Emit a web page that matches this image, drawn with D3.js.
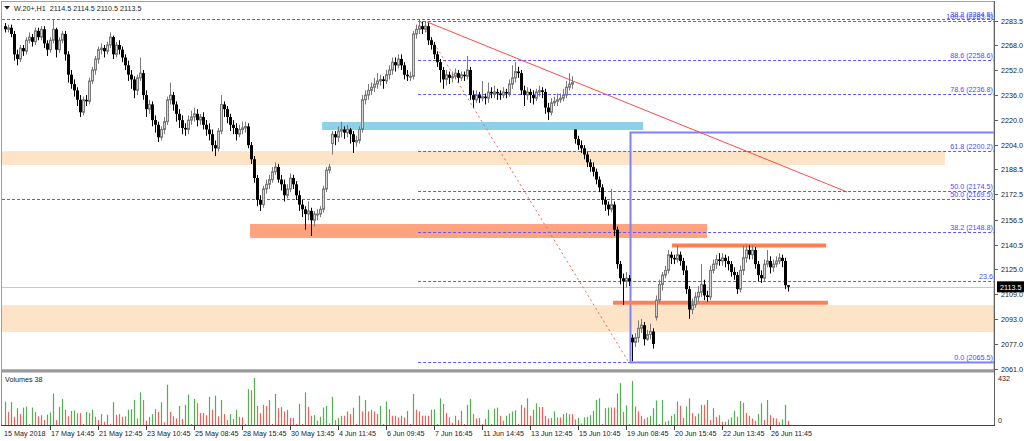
<!DOCTYPE html>
<html><head><meta charset="utf-8">
<script src="https://cdn.jsdelivr.net/npm/d3@7"></script>
<style>html,body{margin:0;padding:0;background:#fff;}svg{display:block;}text{font-family:"Liberation Sans",Arial,sans-serif;}</style>
</head><body><svg id="c" width="1024" height="441"></svg>
<script>
// ---------- DATA ----------
const opens = [
2280,2278,2279,2275,2262,2259,2266,2264,2271,2273,
2270,2277,2273,2278,2269,2265,2271,2278,2265,2271,
2275,2262,2249,2243,2239,2233,2225,2233,2232,2245,
2252,2259,2265,2266,2264,2268,2273,2262,2268,2265,
2260,2255,2249,2246,2239,2247,2250,2236,2227,2230,
2220,2217,2209,2214,2219,2233,2236,2230,2224,2220,
2215,2214,2220,2222,2224,2220,2222,2217,2214,2211,
2204,2202,2213,2230,2227,2222,2217,2215,2211,2214,
2215,2216,2204,2195,2183,2169,2166,2176,2179,2182,
2187,2190,2182,2179,2172,2176,2183,2179,2172,2166,
2163,2160,2162,2156,2160,2160,2163,2176,2188,2205,
2211,2209,2213,2214,2212,2214,2211,2206,2207,2214,
2233,2236,2239,2241,2243,2245,2246,2245,2249,2252,
2257,2255,2259,2255,2249,2248,2248,2275,2278,2280,
2278,2280,2271,2268,2262,2257,2252,2246,2249,2247,
2248,2250,2247,2249,2248,2252,2236,2233,2236,2234,
2235,2234,2238,2237,2238,2237,2236,2238,2237,2243,
2247,2251,2250,2239,2236,2238,2236,2234,2238,2239,
2238,2228,2225,2231,2232,2233,2234,2236,2241,2243,
2214,2208,2204,2202,2198,2193,2190,2187,2182,2177,
2169,2166,2163,2166,2150,2128,2119,2117,2119,2081,
2078,2081,2087,2089,2080,2083,2085,2094,2105,2115,
2121,2124,2134,2132,2131,2134,2130,2124,2112,2099,
2102,2107,2110,2115,2108,2107,2124,2128,2131,2130,
2132,2130,2128,2123,2121,2112,2124,2132,2137,2134,
2137,2128,2121,2119,2128,2130,2126,2128,2130,2132,
2130,2114.5];
const highs = [
2282,2281,2281,2277,2265,2268,2268,2273,2276,2275,
2279,2279,2280,2280,2271,2273,2284,2279,2273,2277,
2277,2264,2252,2246,2241,2236,2235,2236,2247,2254,
2261,2267,2269,2268,2270,2276,2274,2270,2271,2267,
2262,2258,2252,2248,2249,2260,2252,2239,2233,2232,
2223,2219,2216,2222,2235,2244,2238,2232,2227,2223,
2218,2223,2226,2228,2227,2224,2225,2220,2218,2214,
2207,2215,2236,2232,2229,2224,2220,2218,2217,2219,
2219,2218,2206,2197,2185,2172,2178,2182,2185,2190,
2193,2192,2185,2182,2179,2186,2185,2181,2175,2169,
2165,2168,2164,2162,2163,2165,2178,2190,2192,2213,
2213,2216,2219,2216,2217,2215,2213,2210,2216,2236,
2239,2243,2244,2247,2250,2249,2248,2252,2255,2260,
2260,2262,2262,2257,2252,2251,2277,2281,2284,2283,
2283,2282,2273,2270,2264,2259,2254,2252,2251,2251,
2253,2252,2251,2251,2261,2254,2239,2239,2238,2245,
2237,2244,2241,2242,2240,2239,2241,2240,2246,2255,
2257,2254,2252,2242,2241,2240,2239,2240,2242,2241,
2240,2231,2234,2235,2237,2237,2240,2245,2250,2248,
2214,2210,2207,2204,2200,2195,2193,2189,2184,2179,
2171,2168,2176,2168,2152,2130,2122,2123,2121,2083,
2084,2092,2093,2091,2086,2090,2087,2108,2118,2123,
2127,2137,2136,2134,2140,2136,2132,2127,2114,2106,
2110,2114,2128,2118,2111,2127,2131,2134,2135,2135,
2134,2133,2130,2126,2123,2127,2140,2140,2140,2140,
2139,2130,2124,2131,2137,2133,2131,2133,2135,2134,
2132,2114.5];
const lows = [
2276,2276,2273,2258,2255,2257,2261,2262,2269,2267,
2268,2271,2271,2266,2261,2263,2269,2260,2263,2269,
2258,2244,2240,2235,2229,2222,2223,2229,2230,2243,
2249,2256,2262,2260,2262,2266,2259,2260,2262,2257,
2252,2245,2240,2234,2236,2245,2233,2222,2224,2216,
2212,2206,2207,2211,2217,2230,2226,2219,2215,2211,
2210,2211,2217,2219,2216,2217,2214,2210,2207,2200,
2197,2200,2211,2222,2218,2213,2211,2207,2209,2211,
2212,2202,2192,2180,2165,2162,2164,2173,2176,2180,
2185,2180,2175,2168,2170,2174,2176,2169,2162,2158,
2150,2156,2146,2152,2156,2158,2161,2174,2186,2198,
2204,2206,2209,2208,2209,2205,2199,2203,2205,2212,
2230,2233,2236,2238,2240,2242,2240,2243,2246,2249,
2251,2253,2252,2246,2245,2245,2246,2272,2275,2275,
2276,2268,2265,2259,2254,2244,2240,2242,2243,2244,
2246,2244,2245,2245,2246,2233,2228,2231,2231,2232,
2230,2231,2234,2234,2233,2233,2234,2234,2235,2240,
2244,2247,2236,2229,2233,2231,2230,2232,2235,2234,
2224,2220,2223,2229,2229,2231,2232,2234,2239,2240,
2205,2201,2199,2195,2190,2187,2184,2179,2174,2166,
2162,2159,2161,2146,2125,2115,2102,2113,2114,2066,
2075,2078,2084,2076,2079,2080,2074,2092,2103,2111,
2119,2122,2128,2128,2129,2127,2121,2109,2093,2096,
2100,2104,2107,2105,2104,2105,2122,2125,2127,2127,
2126,2124,2120,2118,2109,2110,2121,2129,2131,2131,
2125,2117,2116,2117,2126,2122,2123,2126,2128,2126,
2112,2110.5];
const closes = [
2278,2279,2275,2262,2259,2266,2264,2271,2273,2270,
2277,2273,2278,2269,2265,2271,2278,2265,2271,2275,
2262,2249,2243,2239,2233,2225,2233,2232,2245,2252,
2259,2265,2266,2264,2268,2273,2262,2268,2265,2260,
2255,2249,2246,2239,2247,2250,2236,2227,2230,2220,
2217,2209,2214,2219,2233,2236,2230,2224,2220,2215,
2214,2220,2222,2224,2220,2222,2217,2214,2211,2204,
2202,2213,2230,2227,2222,2217,2215,2211,2214,2215,
2216,2204,2195,2183,2169,2166,2176,2179,2182,2187,
2190,2182,2179,2172,2176,2183,2179,2172,2166,2163,
2160,2162,2156,2160,2160,2163,2176,2188,2190,2211,
2209,2213,2214,2212,2214,2211,2206,2207,2214,2233,
2236,2239,2241,2243,2245,2246,2245,2249,2252,2257,
2255,2259,2255,2249,2248,2248,2275,2278,2280,2278,
2280,2271,2268,2262,2257,2252,2246,2249,2247,2248,
2250,2247,2249,2248,2252,2236,2233,2236,2234,2235,
2234,2238,2237,2238,2237,2236,2238,2237,2243,2247,
2251,2250,2239,2236,2238,2236,2234,2238,2239,2238,
2228,2225,2231,2232,2233,2234,2236,2241,2243,2244,
2208,2204,2202,2198,2193,2190,2187,2182,2177,2169,
2166,2163,2166,2150,2128,2119,2117,2119,2117,2078,
2081,2087,2089,2080,2083,2085,2077,2105,2115,2121,
2124,2134,2132,2131,2134,2130,2124,2112,2099,2102,
2107,2110,2115,2108,2107,2124,2128,2131,2130,2132,
2130,2128,2123,2121,2112,2124,2132,2137,2134,2137,
2128,2121,2119,2128,2130,2126,2128,2130,2132,2130,
2114.5,2113.5];
const volumes = [
215,120,210,75,155,100,160,170,10,160,
120,80,90,45,95,115,290,45,165,240,
140,80,130,135,110,110,10,120,110,140,
75,45,100,30,95,10,210,95,100,75,
80,140,145,230,60,300,230,40,75,100,
145,120,210,25,370,120,80,60,175,55,
185,280,10,240,200,110,110,90,260,140,
270,80,230,100,45,100,55,140,75,70,
10,330,320,432,175,110,185,175,230,10,
285,155,165,125,140,65,65,10,195,10,
300,165,85,90,40,75,160,175,15,260,
45,65,85,85,125,100,160,10,270,125,
230,125,140,125,100,175,10,215,145,85,
85,70,85,70,130,10,285,140,125,85,
85,85,140,145,10,245,195,110,70,20,
85,45,130,10,185,240,100,60,65,10,
55,140,10,150,160,85,40,85,105,125,
135,10,185,160,245,85,140,200,165,165,
85,60,65,125,70,70,100,110,100,100,
50,65,15,70,75,90,130,230,245,10,
155,160,160,160,290,385,120,180,10,405,
170,125,85,55,70,85,155,225,10,230,
30,40,85,100,215,175,65,170,245,110,
80,105,185,185,230,45,155,75,90,30,
30,50,70,130,75,220,205,110,85,60,
40,100,200,45,230,90,65,60,25,50,
185,38];
const timeLabels = ["15 May 2018","17 May 14:45","21 May 12:45","23 May 10:45","25 May 08:45","28 May 15:45","30 May 13:45","4 Jun 11:45","6 Jun 09:45","7 Jun 16:45","11 Jun 14:45","13 Jun 12:45","15 Jun 10:45","19 Jun 08:45","20 Jun 15:45","22 Jun 13:45","26 Jun 11:45"];
const timeLabelIdx = [0,15,31,47,63,79,95,111,127,143,159,175,191,207,223,239,255];
const priceTicks = [2283.5,2268.0,2252.0,2236.0,2220.0,2204.0,2188.5,2172.5,2156.5,2140.5,2125.0,2109.0,2093.0,2077.0,2061.0];
const volumeTicks = [432,0];
const fibMain = [["100.0",2283.5],["88.6",2258.6],["78.6",2236.8],["61.8",2200.2],["50.0",2174.5],["38.2",2148.8],["23.6",2117.0],["0.0",2065.5]];
const fibSecond = [["38.2",2284.5],["50.0",2169.5]];
const fibMainStart = 137.7;           // bar index
// zones: [fromIdx, toIdx, priceTop, priceBottom]
const zoneBlue = [105.7,212.7,2218.8,2213.7];
const zonePeach1 = [-1.5,313.3,2200.2,2191.3];
const zonePeach2 = [-1.5,400,2101.8,2084.6];
const zoneSalmon = [81.7,234.0,2153.6,2144.7];
const levelLines = [[222.3,273.7,2139.9],[202.7,274.3,2103.4]];
const trendSolid = [[140.7,2282.7],[280.7,2174.1]];
const trendDotted = [[138.7,2282.7],[207.7,2066.0]];
const boxRect = [208.3,400,2212.4,2065.5];
const title = "W.20+,H1  2114.5 2114.5 2110.5 2113.5";
const lastPrice = 2113.5;
const lastVolume = 38;

// ---------- SCALES ----------
const svg = d3.select("#c");
const x = d3.scaleLinear().domain([0,261]).range([5,788]);
const y = d3.scaleLinear().domain([2061.0,2283.5]).range([369,20.7]);
const yv = d3.scaleLinear().domain([0,432]).range([425,378]);
const AX = 994; // right axis line
svg.append("defs").append("clipPath").attr("id","mainclip").append("rect")
  .attr("x",2).attr("y",2).attr("width",AX-2).attr("height",368);
const main = svg.append("g").attr("clip-path","url(#mainclip)");

function zone(z, col){
  main.append("rect").attr("x",x(z[0])).attr("width",x(z[1])-x(z[0]))
    .attr("y",y(z[2])).attr("height",y(z[3])-y(z[2])).attr("fill",col);
}
zone(zonePeach1,"#fde4c6");
zone(zonePeach2,"#fde4c6");
zone(zoneSalmon,"#ffa27e");
zone(zoneBlue,"#8dd0e8");

// last price line
main.append("line").attr("x1",2).attr("x2",AX).attr("y1",Math.round(y(lastPrice))+0.5).attr("y2",Math.round(y(lastPrice))+0.5)
  .attr("stroke","#c8c8c8").attr("stroke-width",1);

// fib lines
const fibCol = "#5a5aff";
fibMain.forEach(([l,p])=>{
  const yy = Math.round(y(p))+0.5;
  main.append("line").attr("x1",x(fibMainStart)).attr("x2",AX).attr("y1",yy).attr("y2",yy)
    .attr("stroke",fibCol).attr("stroke-width",1).attr("stroke-dasharray","3,2");
});
fibSecond.forEach(([l,p])=>{
  const yy = Math.round(y(p))+0.5;
  main.append("line").attr("x1",2).attr("x2",AX).attr("y1",yy).attr("y2",yy)
    .attr("stroke",fibCol).attr("stroke-width",1).attr("stroke-dasharray","3,2");
});

// box
main.append("rect").attr("x",Math.round(x(boxRect[0]))+0.5).attr("y",Math.round(y(boxRect[2]))+0.5)
  .attr("width",x(boxRect[1])-x(boxRect[0])).attr("height",y(boxRect[3])-y(boxRect[2]))
  .attr("fill","none").attr("stroke","#8080ff").attr("stroke-width",2);

// level lines
levelLines.forEach(l=>{
  main.append("line").attr("x1",x(l[0])).attr("x2",x(l[1])).attr("y1",y(l[2])).attr("y2",y(l[2]))
    .attr("stroke","#ff7f50").attr("stroke-width",4);
});

// trendlines
main.append("line").attr("x1",x(trendSolid[0][0])).attr("y1",y(trendSolid[0][1]))
  .attr("x2",x(trendSolid[1][0])).attr("y2",y(trendSolid[1][1])).attr("stroke","#ff4a4a").attr("stroke-width",1);
main.append("line").attr("x1",x(trendDotted[0][0])).attr("y1",y(trendDotted[0][1]))
  .attr("x2",x(trendDotted[1][0])).attr("y2",y(trendDotted[1][1])).attr("stroke","#ff5a5a").attr("stroke-width",1)
  .attr("stroke-dasharray","2,3");

// candles
const cg = main.append("g");
closes.forEach((c,i)=>{
  const o = opens[i], h = highs[i], l = lows[i];
  const px = Math.round(x(i));
  const bull = c >= o;
  const col = bull ? "#7a7a7a" : "#000";
  cg.append("line").attr("x1",px+0.5).attr("x2",px+0.5).attr("y1",y(h)).attr("y2",y(l))
    .attr("stroke",col).attr("stroke-width",1);
  const top = y(Math.max(o,c)), bot = y(Math.min(o,c));
  if(bull){
    cg.append("rect").attr("x",px-0.5).attr("y",top).attr("width",2).attr("height",Math.max(bot-top,1))
      .attr("fill","#d6d6d6").attr("stroke","#7a7a7a").attr("stroke-width",1);
  } else {
    cg.append("rect").attr("x",px-1).attr("y",top).attr("width",3).attr("height",Math.max(bot-top,1))
      .attr("fill","#000");
  }
});

// fib labels
const lab = svg.append("g").attr("font-size","7.2px").attr("fill","#4b4bff").attr("text-anchor","end");
fibMain.forEach(([l,p])=>{
  lab.append("text").attr("x",AX-1).attr("y",y(p)-2).text(l==="23.6" ? l : `${l} (${p.toFixed(1)})`);
});
fibSecond.forEach(([l,p])=>{
  lab.append("text").attr("x",AX-1).attr("y",y(p)-2).text(`${l} (${p.toFixed(1)})`);
});

// frames
const frame = svg.append("g").attr("fill","none");
frame.append("rect").attr("x",1.5).attr("y",1.5).attr("width",AX-1.5).attr("height",368.5).attr("stroke","#a0a0a0");
frame.append("rect").attr("x",1).attr("y",369.5).attr("width",AX-1).attr("height",3).attr("fill","#9a9a9a").attr("stroke","none");
frame.append("line").attr("x1",AX+0.5).attr("x2",AX+0.5).attr("y1",1).attr("y2",426).attr("stroke","#606060");
frame.append("line").attr("x1",1.5).attr("x2",1.5).attr("y1",372).attr("y2",426).attr("stroke","#909090");
frame.append("line").attr("x1",1).attr("x2",AX+1).attr("y1",425.5).attr("y2",425.5).attr("stroke","#404040");

// volumes
const vg = svg.append("g");
volumes.forEach((v,i)=>{
  const px = Math.round(x(i));
  const up = i===0 ? true : v > volumes[i-1];
  vg.append("line").attr("x1",px+0.5).attr("x2",px+0.5).attr("y1",yv(0)).attr("y2",yv(v))
    .attr("stroke", up ? "#52b052" : "#ff5a5a").attr("stroke-width",1.2);
});

// price axis
const pa = svg.append("g").attr("font-size","7.2px").attr("fill","#222");
priceTicks.forEach(p=>{
  const yy = Math.round(y(p))+0.5;
  pa.append("line").attr("x1",AX).attr("x2",AX+4).attr("y1",yy).attr("y2",yy).attr("stroke","#606060");
  pa.append("text").attr("x",AX+7).attr("y",yy+2.5).text(p.toFixed(1));
});
volumeTicks.forEach(v=>{
  const yy = v===0 ? yv(v)-5 : yv(v);
  pa.append("text").attr("x",AX+4).attr("y",yy+2.5).text(String(v));
});
// last price marker
const ly = y(lastPrice);
svg.append("rect").attr("x",AX+3).attr("y",ly-5.5).attr("width",27).attr("height",11).attr("fill","#000");
svg.append("text").attr("x",AX+6).attr("y",ly+3).attr("font-size","7.2px").attr("fill","#fff").text(lastPrice.toFixed(1));

// time axis
const ta = svg.append("g").attr("font-size","7.2px").attr("fill","#222");
timeLabels.forEach((t,k)=>{
  const px = Math.round(x(timeLabelIdx[k]));
  if(k>0) ta.append("line").attr("x1",px+0.5).attr("x2",px+0.5).attr("y1",426).attr("y2",430).attr("stroke","#404040");
  ta.append("text").attr("x",k===0?4:px+1).attr("y",436).text(t);
});

// titles
svg.append("path").attr("d","M4,6 L10,6 L7,9.5 Z").attr("fill","#222");
svg.append("text").attr("x",14).attr("y",10.5).attr("font-size","7.2px").attr("fill","#222").style("white-space","pre").text(title);
svg.append("text").attr("x",5).attr("y",382).attr("font-size","7.2px").attr("fill","#222").text("Volumes " + lastVolume);
</script></body></html>
